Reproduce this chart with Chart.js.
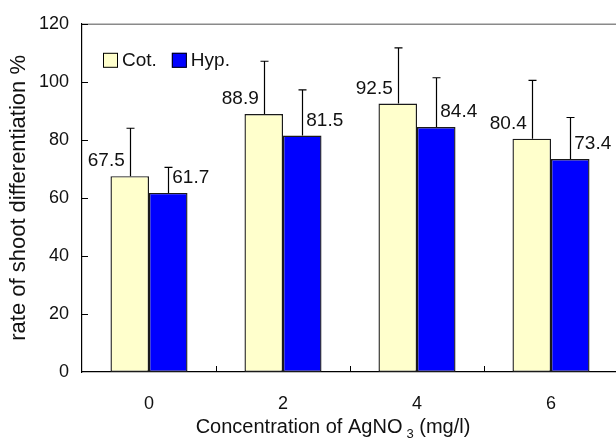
<!DOCTYPE html>
<html>
<head>
<meta charset="utf-8">
<script src="https://cdn.jsdelivr.net/npm/chart.js@4"></script>
<style>
  html, body { margin: 0; padding: 0; background: #fff; overflow: hidden; }
  #wrap { width: 640px; height: 441px; }
</style>
</head>
<body>
<div id="wrap"><canvas id="shootChart" width="640" height="441"></canvas></div>
<script>
const categories = ["0", "2", "4", "6"];
const seriesNames = ["Cot.", "Hyp."];
const cotValues = [67.5, 88.9, 92.5, 80.4];
const hypValues = [61.7, 81.5, 84.4, 73.4];
const cotErrors = [16.5, 18.2, 19.2, 20.1];
const hypErrors = [8.8, 15.7, 17.0, 14.3];
const yTicks = [0, 20, 40, 60, 80, 100, 120];

const FONT = "'Liberation Sans', Arial, Helvetica, sans-serif";
const errors = [cotErrors, hypErrors];

// frame: grey top/right edge of the plot area
const framePlugin = {
  id: "frame",
  beforeDatasetsDraw(chart) {
    const { ctx, chartArea: a } = chart;
    ctx.save();
    ctx.strokeStyle = "#8a8a8a";
    ctx.lineWidth = 1.5;
    ctx.beginPath();
    ctx.moveTo(a.left, a.top + 0.5);
    ctx.lineTo(a.right, a.top + 0.5);
    ctx.lineTo(a.right, a.bottom);
    ctx.stroke();
    ctx.restore();
  }
};

// inward tick marks on both axes
const tickPlugin = {
  id: "inTicks",
  afterDraw(chart) {
    const { ctx, chartArea: a } = chart;
    const y = chart.scales.y, x = chart.scales.x;
    ctx.save();
    ctx.strokeStyle = "#000";
    ctx.lineWidth = 1;
    ctx.beginPath();
    yTicks.forEach(v => {
      if (v === 0) return;
      const py = Math.round(y.getPixelForValue(v)) + 0.5;
      ctx.moveTo(a.left, py);
      ctx.lineTo(a.left + 6, py);
    });
    for (let i = 0; i < categories.length - 1; i++) {
      const px = Math.round((x.getPixelForValue(i) + x.getPixelForValue(i + 1)) / 2) + 0.5;
      ctx.moveTo(px, a.bottom);
      ctx.lineTo(px, a.bottom - 6);
    }
    ctx.stroke();
    ctx.restore();
  }
};

// upper error bars and value labels
const errorPlugin = {
  id: "errorBars",
  afterDatasetsDraw(chart) {
    const { ctx } = chart;
    const y = chart.scales.y;
    ctx.save();
    ctx.strokeStyle = "#000";
    ctx.lineWidth = 1.2;
    ctx.font = "19px " + FONT;
    ctx.fillStyle = "#111";
    ctx.textBaseline = "middle";
    chart.data.datasets.forEach((ds, di) => {
      const meta = chart.getDatasetMeta(di);
      meta.data.forEach((bar, i) => {
        const top = y.getPixelForValue(ds.data[i] + errors[di][i]);
        const cx = Math.round(bar.x) + 0.5;
        ctx.beginPath();
        ctx.moveTo(cx, bar.y);
        ctx.lineTo(cx, top);
        ctx.moveTo(cx - 4, top);
        ctx.lineTo(cx + 4, top);
        ctx.stroke();
        const label = ds.data[i].toFixed(1);
        if (di === 0) {
          ctx.textAlign = "right";
          ctx.fillText(label, bar.x - 5, bar.y - 15);
        } else {
          ctx.textAlign = "left";
          ctx.fillText(label, bar.x + 4, bar.y - 15);
        }
      });
    });
    ctx.restore();
  }
};

// legend inside the plot area + x title with subscript
const legendPlugin = {
  id: "innerLegend",
  afterDraw(chart) {
    const { ctx, chartArea: a } = chart;
    ctx.save();
    ctx.font = "19px " + FONT;
    ctx.textBaseline = "middle";
    ctx.textAlign = "left";
    let lx = a.left + 21;
    const ly = a.top + 29;
    chart.data.datasets.forEach(ds => {
      ctx.fillStyle = ds.backgroundColor;
      ctx.fillRect(lx, ly, 15, 15);
      ctx.strokeStyle = "#000";
      ctx.lineWidth = 1;
      ctx.strokeRect(lx + 0.5, ly + 0.5, 14, 14);
      ctx.fillStyle = "#111";
      ctx.fillText(ds.label, lx + 19, ly + 8);
      lx += 19 + ctx.measureText(ds.label).width + 15;
    });

    // x axis title
    const x = chart.scales.x;
    const main = "Concentration of AgNO";
    const tail = " (mg/l)";
    ctx.font = "20px " + FONT;
    const w1 = ctx.measureText(main).width;
    const w3 = ctx.measureText(tail).width;
    ctx.font = "13px " + FONT;
    const w2 = ctx.measureText("3").width + 4;
    const total = w1 + w2 + w3;
    let tx = (x.left + x.right) / 2 - 17 - total / 2;
    const base = 433;
    ctx.textBaseline = "alphabetic";
    ctx.fillStyle = "#111";
    ctx.font = "20px " + FONT;
    ctx.fillText(main, tx, base);
    ctx.font = "13px " + FONT;
    ctx.fillText("3", tx + w1 + 4, base + 5);
    ctx.font = "20px " + FONT;
    ctx.fillText(tail, tx + w1 + w2, base);
    ctx.restore();
  }
};

new Chart(document.getElementById("shootChart"), {
  type: "bar",
  data: {
    labels: categories,
    datasets: [
      {
        label: seriesNames[0],
        data: cotValues,
        backgroundColor: "#FFFFCC",
        borderColor: "#1a1a1a",
        borderWidth: 1.4,
        borderSkipped: false,
        categoryPercentage: 0.575,
        barPercentage: 1.0
      },
      {
        label: seriesNames[1],
        data: hypValues,
        backgroundColor: "#0000FF",
        borderColor: "#1a1a1a",
        borderWidth: 1.4,
        borderSkipped: false,
        categoryPercentage: 0.575,
        barPercentage: 1.0
      }
    ]
  },
  options: {
    responsive: false,
    animation: false,
    layout: { padding: { top: 19, right: 22, left: 0, bottom: 0 } },
    plugins: {
      legend: { display: false },
      tooltip: { enabled: false }
    },
    scales: {
      x: {
        grid: { display: false, drawTicks: false },
        border: { display: true, color: "#000", width: 1.2 },
        ticks: { color: "#111", font: { size: 18, family: FONT }, padding: 21 },
        afterFit: s => { s.height = 69; }
      },
      y: {
        min: 0,
        max: 120,
        grid: { display: false, drawTicks: false },
        border: { display: true, color: "#000", width: 1.2 },
        ticks: {
          stepSize: 20,
          color: "#111",
          padding: 13,
          font: { size: 18, family: FONT },
          callback: v => yTicks.includes(v) ? String(v) : ""
        },
        title: {
          display: true,
          text: "rate of shoot differentiation %",
          color: "#111",
          font: { size: 22, family: FONT },
          padding: { top: 6, bottom: 0 }
        },
        afterFit: s => { s.width = 82; }
      }
    }
  },
  plugins: [framePlugin, errorPlugin, tickPlugin, legendPlugin]
});
</script>
</body>
</html>
